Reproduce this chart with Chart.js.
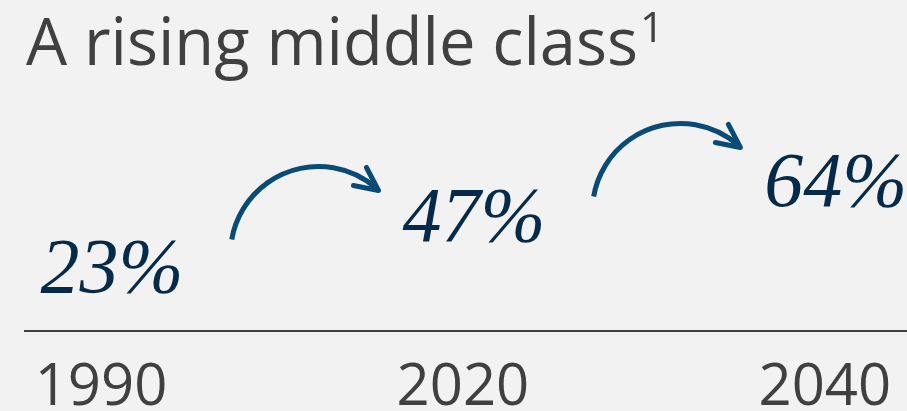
<!DOCTYPE html>
<html><head><meta charset="utf-8">
<script src="https://cdn.jsdelivr.net/npm/chart.js@4.4.1/dist/chart.umd.min.js"></script>
<style>html,body{margin:0;padding:0;background:#f2f2f2;overflow:hidden}canvas{display:block}</style>
</head><body>
<canvas id="c" width="907" height="411"></canvas>
<script>
const titleText = 'A rising middle class';
const titleNote = '1';
const years = ['1990', '2020', '2040'];
const shares = [23, 47, 64];
const shareLabels = ['23%', '47%', '64%'];

const GRAY = '#404040';
const NAVY = '#062a4a';
const ARROW = '#094a76';

const infographic = {
  id: 'infographic',
  afterDatasetsDraw(chart) {
    const ctx = chart.ctx;
    const meta = chart.getDatasetMeta(0);
    ctx.save();
    // title
    ctx.fillStyle = GRAY;
    ctx.textAlign = 'left';
    ctx.textBaseline = 'alphabetic';
    ctx.font = '65px "Open Sans"';
    ctx.fillText(titleText, 26, 65);
    const tw = ctx.measureText(titleText).width;
    ctx.font = '42px "Open Sans"';
    ctx.fillText(titleNote, 26 + tw + 2, 42);

    // value labels
    ctx.font = 'italic 78px "Liberation Serif"';
    ctx.fillStyle = NAVY;
    ctx.textAlign = 'center';
    const boxes = meta.data.map((pt, i) => {
      const x = pt.x + 11, y = pt.y + 9;
      ctx.fillText(shareLabels[i], x, y);
      const w = ctx.measureText(shareLabels[i]).width;
      return { left: x - w / 2, right: x + w / 2, base: y };
    });

    // arrows between consecutive values
    ctx.strokeStyle = ARROW;
    ctx.lineWidth = 5;
    ctx.lineJoin = 'round';
    const r = 88;
    const a0 = -170.2 * Math.PI / 180, a1 = -48.6 * Math.PI / 180;
    for (let i = 0; i < boxes.length - 1; i++) {
      const cx = (boxes[i].right + boxes[i + 1].left) / 2 + 12;
      const tipX = cx + 73.5;
      const tipY = (boxes[i].base + boxes[i + 1].base) / 2 - 76;
      const ox = tipX - 60, oy = tipY + 64;
      ctx.lineCap = 'butt';
      ctx.beginPath();
      ctx.arc(ox, oy, r, a0, a1, false);
      ctx.stroke();
      ctx.lineCap = 'round';
      ctx.beginPath();
      ctx.moveTo(tipX - 12, tipY - 23);
      ctx.lineTo(tipX, tipY);
      ctx.lineTo(tipX - 25, tipY - 5);
      ctx.stroke();
    }
    ctx.restore();
  }
};

new Chart(document.getElementById('c'), {
  type: 'line',
  data: {
    datasets: [{
      data: shares.map((v, i) => ({ x: i, y: v })),
      showLine: false,
      pointRadius: 0,
      pointHoverRadius: 0
    }]
  },
  options: {
    responsive: false,
    animation: false,
    events: [],
    layout: { padding: { left: 25, right: 0, top: 121, bottom: -34 } },
    plugins: { legend: { display: false }, title: { display: false }, tooltip: { enabled: false } },
    scales: {
      x: {
        type: 'linear',
        min: -0.21,
        max: 2.227,
        afterBuildTicks: s => { s.ticks = years.map((_, i) => ({ value: i })); },
        afterFit: s => { s.paddingLeft = 0; s.paddingRight = 0; },
        grid: { display: false, drawTicks: false },
        border: { display: true, color: GRAY, width: 2 },
        ticks: {
          autoSkip: false, maxRotation: 0, padding: 33.8, color: GRAY,
          font: { family: '"Open Sans"', size: 58, lineHeight: 0.8 },
          callback: v => years[v]
        }
      },
      y: { display: false, min: 0, max: 100 }
    }
  },
  plugins: [infographic]
});
</script>
</body></html>
